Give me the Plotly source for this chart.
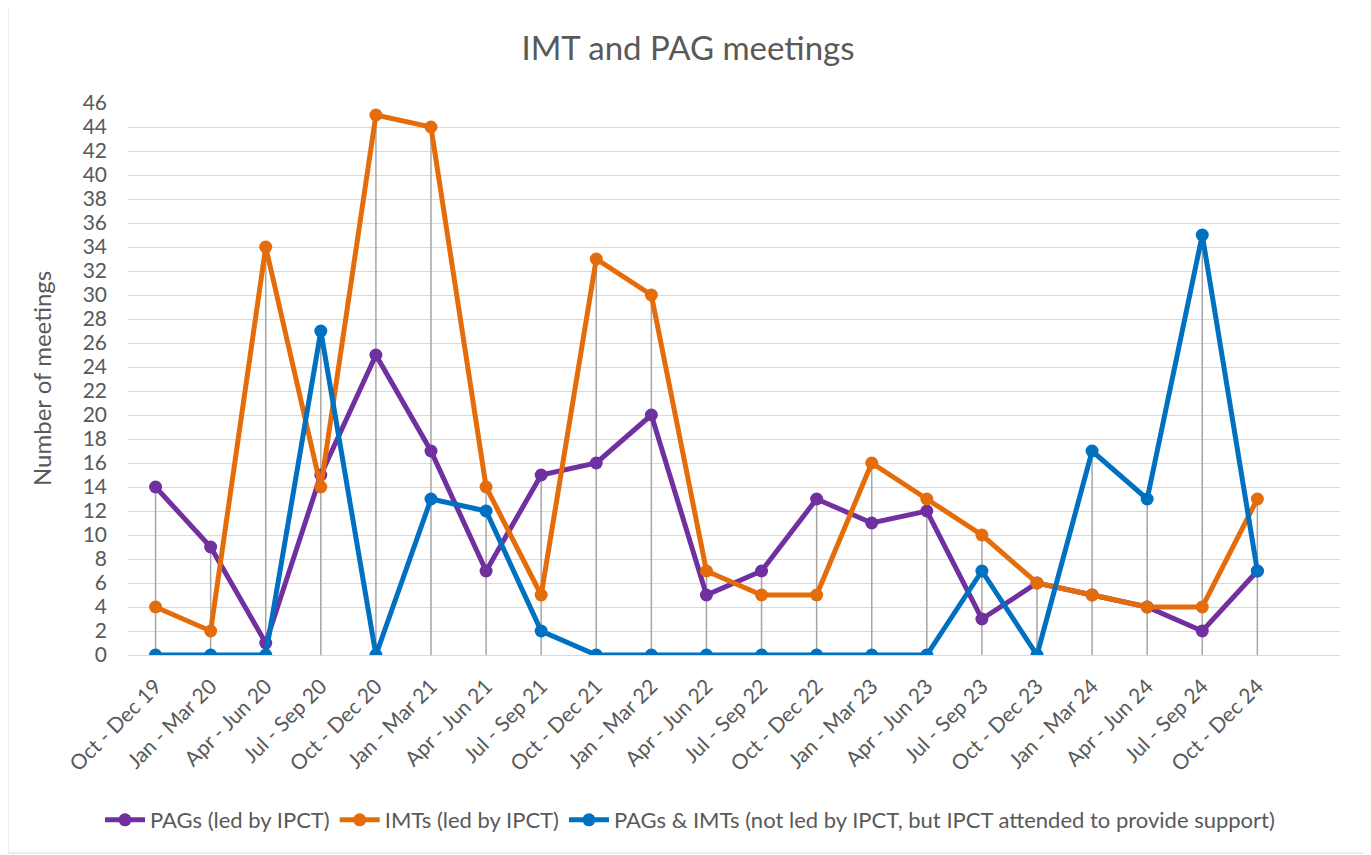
import plotly.graph_objects as go

categories = ["Oct - Dec 19", "Jan - Mar 20", "Apr - Jun 20", "Jul - Sep 20", "Oct - Dec 20",
              "Jan - Mar 21", "Apr - Jun 21", "Jul - Sep 21", "Oct - Dec 21", "Jan - Mar 22",
              "Apr - Jun 22", "Jul - Sep 22", "Oct - Dec 22", "Jan - Mar 23", "Apr - Jun 23",
              "Jul - Sep 23", "Oct - Dec 23", "Jan - Mar 24", "Apr - Jun 24", "Jul - Sep 24",
              "Oct - Dec 24"]
pags = [14, 9, 1, 15, 25, 17, 7, 15, 16, 20, 5, 7, 13, 11, 12, 3, 6, 5, 4, 2, 7]
imts = [4, 2, 34, 14, 45, 44, 14, 5, 33, 30, 7, 5, 5, 16, 13, 10, 6, 5, 4, 4, 13]
support = [0, 0, 0, 27, 0, 13, 12, 2, 0, 0, 0, 0, 0, 0, 0, 7, 0, 17, 13, 35, 7]
y_ticks = list(range(0, 47, 2))

series = [
    ("PAGs (led by IPCT)", pags, "#7030A0"),
    ("IMTs (led by IPCT)", imts, "#E46C0A"),
    ("PAGs & IMTs (not led by IPCT, but IPCT attended to provide support)", support, "#0070C0"),
]

FONT = "Lato"
GREY = "#595959"

# page body has an 8px margin; figure is sized so it fills the 1371x855 window
W, H = 1363, 847
L, R, T, B = 120, 31, 95, 200
PW, PH = W - L - R, H - T - B

fig = go.Figure()

# drop lines from the highest point of each category to the axis
dx, dy = [], []
for i, c in enumerate(categories):
    top = max(pags[i], imts[i], support[i])
    dx += [i, i, None]
    dy += [0, top, None]
fig.add_trace(go.Scatter(x=dx, y=dy, mode="lines", line=dict(color="#A6A6A6", width=1.5),
                         showlegend=False, hoverinfo="skip"))

for name, vals, col in series:
    fig.add_trace(go.Scatter(x=list(range(len(categories))), y=vals, name=name,
                             mode="lines+markers",
                             line=dict(color=col, width=5),
                             marker=dict(color=col, size=13)))

fig.update_layout(
    width=W, height=H,
    paper_bgcolor="white", plot_bgcolor="white",
    margin=dict(l=L, r=R, t=T, b=B),
    font=dict(family=FONT, color=GREY, size=21),
    title=dict(text="IMT and PAG meetings", x=680 / W, xanchor="center",
               y=1 - 40 / H, yanchor="middle", font=dict(size=33, color=GREY, family=FONT)),
    showlegend=True,
    legend=dict(orientation="h", x=(682 - L) / PW, xanchor="center", y=(T + PH - 812) / PH,
                yanchor="middle", font=dict(size=22, color=GREY, family=FONT),
                itemwidth=40, traceorder="normal"),
    xaxis=dict(tickmode="array", tickvals=list(range(len(categories))), ticktext=categories,
               range=[-0.5, 21.5], tickangle=-45, showgrid=False, zeroline=False,
               showline=False, ticks="", tickfont=dict(size=21, color=GREY),
               ticklabelstandoff=14),
    yaxis=dict(range=[0, 46], tickvals=y_ticks, showgrid=True, gridcolor="#D9D9D9", gridwidth=1,
               zeroline=True, zerolinecolor="#D9D9D9", zerolinewidth=1, showline=False,
               ticks="", tickfont=dict(size=21, color=GREY), ticklabelstandoff=20),
    annotations=[dict(text="Number of meetings", xref="paper", yref="paper",
                      x=(33 - L) / PW, y=0.5, textangle=-90, showarrow=False,
                      xanchor="center", yanchor="middle", font=dict(size=24, color=GREY, family=FONT))],
    shapes=[dict(type="rect", xref="paper", yref="paper",
                 x0=(0 - L) / PW, x1=(1358 - L) / PW,
                 y0=(T + PH - 845) / PH, y1=(T + PH + 4) / PH,
                 line=dict(color="#D9D9D9", width=1), fillcolor="rgba(0,0,0,0)", layer="below")],
)

fig.write_html("out.html")
